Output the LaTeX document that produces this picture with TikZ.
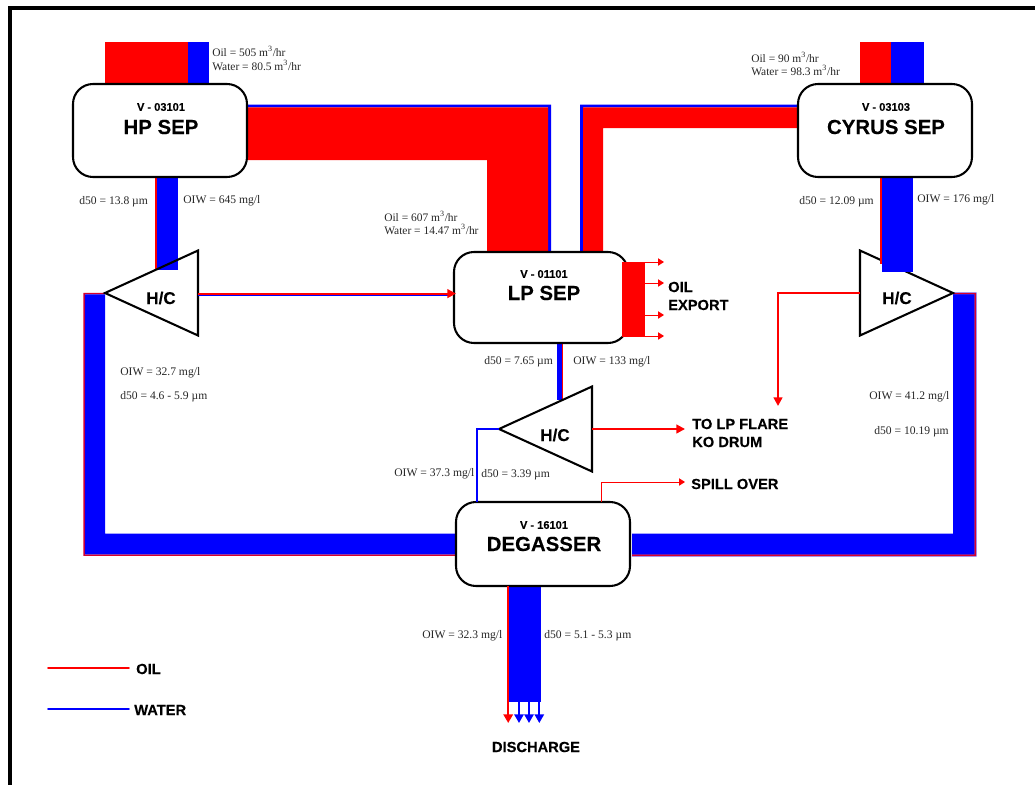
\documentclass[tikz,border=0pt]{standalone}
\usepackage{fontspec}
\setmainfont{Liberation Serif}
\newfontfamily\arialf[BoldFeatures={FakeBold=0.12}]{Liberation Sans}
\usetikzlibrary{arrows.meta,shapes.geometric}
\definecolor{oilc}{RGB}{255,0,0}
\definecolor{watc}{RGB}{0,0,255}
\definecolor{edgec}{RGB}{215,0,45}
\tikzset{
  vessel/.style={draw=black,fill=white,line width=1.55pt,rounded corners=15pt,minimum width=130.5pt,minimum height=69.75pt,inner sep=0pt,outer sep=0pt},
  hctri/.style={isosceles triangle,isosceles triangle stretches,draw=black,line width=1.55pt,miter limit=3,minimum width=63.75pt,minimum height=69.75pt,inner sep=0pt,outer sep=0pt,anchor=apex},
  hcfill/.style={hctri,fill=white,draw=none},
  hcline/.style={hctri,fill=none},
  tag/.style={font=\arialf\bfseries\fontsize{8.3pt}{10pt}\selectfont,inner sep=0pt},
  vname/.style={font=\arialf\bfseries\fontsize{15.3pt}{18pt}\selectfont,inner sep=0pt},
  hctext/.style={font=\arialf\bfseries\fontsize{12.8pt}{15pt}\selectfont,inner sep=0pt},
  big/.style={font=\arialf\bfseries\fontsize{11pt}{13pt}\selectfont,inner sep=0pt,anchor=west},
  val/.style={font=\fontsize{8.7pt}{10pt}\selectfont,inner sep=0pt,anchor=base west,yshift=-2.6pt,text=black!85},
  flow/.style={font=\fontsize{8.6pt}{10pt}\selectfont,inner sep=0pt,anchor=base west,yshift=-2.9pt,text=black!85},
  oil/.style={draw=oilc,line width=1.4pt},
  wat/.style={draw=watc,line width=1.4pt},
  thinoil/.style={draw=oilc,line width=0.7pt,-{Triangle[length=4.5pt,width=5.5pt]}},
  thickoil/.style={draw=oilc,line width=1.4pt,-{Triangle[length=6.5pt,width=6.6pt]}},
  thickwat/.style={draw=watc,line width=1.4pt,-{Triangle[length=6.5pt,width=7pt]}}
}
\begin{document}
\begin{tikzpicture}[x=0.75pt,y=-0.75pt]
\useasboundingbox (0,0) rectangle (1035,785);
% frame
\fill[black] (7.5,6) rectangle (1035,10);
\fill[black] (7.5,6) rectangle (11.5,785);

% triangle bodies
\node[hcfill,shape border rotate=180] (hc1bg) at (105,293) {};
\node[hcfill,shape border rotate=0] (hc2bg) at (953,293) {};
\node[hcfill,shape border rotate=180] (hc3bg) at (499,429) {};

% inlets
\fill[oilc] (105,42) rectangle (187.5,85);
\fill[watc] (187.5,42) rectangle (209,85);
\fill[oilc] (860,42) rectangle (891,85);
\fill[watc] (891,42) rectangle (924,85);

% HP to LP
\fill[watc] (247,104.7) -- (551,104.7) -- (551,252) -- (548,252) -- (548,107.3) -- (247,107.3) -- cycle;
\fill[oilc] (247,107.3) -- (548,107.3) -- (548,252) -- (487,252) -- (487,160) -- (247,160) -- cycle;
% Cyrus to LP
\fill[watc] (580,252.5) -- (580,104.7) -- (799,104.7) -- (799,107.3) -- (583,107.3) -- (583,252.5) -- cycle;
\fill[oilc] (583,252.5) -- (583,107.3) -- (799,107.3) -- (799,128) -- (603,128) -- (603,252.5) -- cycle;

% HP down
\fill[oilc] (155,177) rectangle (157.3,270);
\fill[watc] (157.3,177) rectangle (178,270);
% Cyrus down
\fill[oilc] (880,177) rectangle (882,263.5);
\fill[watc] (882,177) rectangle (913,272);
% LP down
\fill[watc] (557,343) rectangle (561.5,400);
\fill[oilc] (561.5,343) rectangle (563,399);

% left water loop
\fill[edgec] (83.3,292.8) -- (105,292.8) -- (105,294.3) -- (84.8,294.3) -- (84.8,554.3) -- (457,554.3) -- (457,555.8) -- (83.3,555.8) -- cycle;
\fill[watc] (84.8,294.3) -- (105,294.3) -- (105,533.5) -- (457,533.5) -- (457,554.3) -- (84.8,554.3) -- cycle;
% right water loop
\fill[watc!55!white] (953,292.3) -- (976.6,292.3) -- (976.6,556.6) -- (632,556.6) -- (632,554) -- (953,554) -- cycle;
\fill[edgec] (953,292.8) -- (976,292.8) -- (976,556) -- (632,556) -- (632,554.4) -- (974.4,554.4) -- (974.4,294.3) -- (953,294.3) -- cycle;
\fill[watc] (953,294.3) -- (974.4,294.3) -- (974.4,554.4) -- (632,554.4) -- (632,533.5) -- (953,533.5) -- cycle;

% discharge
\fill[watc] (509.2,586) rectangle (541,702);

% vessels
\node[vessel] (hp) at (160,130.5) {};
\node[vessel] (cy) at (885,130.5) {};
\node[vessel,minimum height=68.25pt] (lp) at (541,297.5) {};
\node[vessel,minimum height=63pt] (dg) at (543,544) {};

% LP oil export block
\fill[oilc] (622,262) rectangle (645,337);
\coordinate (ex1) at (645,262);
\coordinate (ex2) at (645,283);
\coordinate (ex3) at (645,315);
\coordinate (ex4) at (645,336);
\coordinate (ex1e) at (664,262);
\coordinate (ex2e) at (664,283);
\coordinate (ex3e) at (664,315);
\coordinate (ex4e) at (664,336);
\draw[thinoil] (ex1) -- (ex1e);
\draw[thinoil] (ex2) -- (ex2e);
\draw[thinoil] (ex3) -- (ex3e);
\draw[thinoil] (ex4) -- (ex4e);

% triangle outlines
\node[hcline,shape border rotate=180] (hc1) at (105,293) {};
\node[hcline,shape border rotate=0] (hc2) at (953,293) {};
\node[hcline,shape border rotate=180] (hc3) at (499,429) {};
% blue over outline at Cyrus
\fill[watc] (882,258) rectangle (913,272);
\fill[oilc] (880,250) rectangle (882,263.5);

% H/C 1 to LP
\coordinate (wa) at (198,295.4);
\coordinate (wb) at (448,295.4);
\coordinate (oa) at (198,293.6);
\coordinate (ob) at (456,293.6);
\draw[draw=watc,line width=1pt] (wa) -- (wb);
\draw[draw=oilc,line width=1.6pt,-{Triangle[length=6.5pt,width=6.5pt]}] (oa) -- (ob);

% Cyrus H/C gas
\coordinate (gas0) at (860,293);
\coordinate (gas1) at (778,293);
\coordinate (gas2) at (778,406);
\draw[thickoil] (gas0) -- (gas1) -- (gas2);

% LP H/C
\coordinate (hc3k) at (477,429);
\draw[wat] (hc3.apex) -- (hc3k) -- (hc3k |- dg.north);
\coordinate (fl0) at (592,429);
\coordinate (flare) at (685,429);
\draw[thickoil] (fl0) -- (flare);
\coordinate (sp1) at (601,482);
\coordinate (sp2) at (685,482);
\draw[thinoil] (sp1 |- dg.north) -- (sp1) -- (sp2);

% discharge arrows
\coordinate (d1) at (508.2,723);
\coordinate (d2) at (519,723);
\coordinate (d3) at (529,723);
\coordinate (d4) at (539.3,723);
\draw[thickoil,line width=1.8pt,-{Triangle[length=6.5pt,width=7pt]}] (d1 |- dg.south) -- (d1);
\draw[thickwat] (d2 |- 0,702) -- (d2);
\draw[thickwat] (d3 |- 0,702) -- (d3);
\draw[thickwat] (d4 |- 0,702) -- (d4);

% legend
\coordinate (lo1) at (48,668); \coordinate (lo2) at (129,668);
\coordinate (lw1) at (48,709); \coordinate (lw2) at (129,709);
\draw[oil,line cap=round] (lo1) -- (lo2);
\draw[wat,line cap=round] (lw1) -- (lw2);
\node[big] (toil) at (136,669) {OIL};
\node[big] (twat) at (134,710) {WATER};

% vessel text
\node[tag] (t1) at (161,107) {V - 03101};
\node[vname] (n1) at (161,127) {HP SEP};
\node[tag] (t2) at (886,107) {V - 03103};
\node[vname] (n2) at (886,127) {CYRUS SEP};
\node[tag] (t3) at (544,274) {V - 01101};
\node[vname] (n3) at (544,293) {LP SEP};
\node[tag] (t4) at (544,525) {V - 16101};
\node[vname] (n4) at (544,544) {DEGASSER};
\node[hctext] (h1) at (161,298) {H/C};
\node[hctext] (h2) at (897,298) {H/C};
\node[hctext] (h3) at (555,435) {H/C};

% big labels
\node[big] (l1) at (668,287) {OIL};
\node[big] (l2) at (668,305) {EXPORT};
\node[big] (l3) at (692,424) {TO LP FLARE};
\node[big] (l4) at (692,442) {KO DRUM};
\node[big] (l5) at (691,484) {SPILL OVER};
\node[big,anchor=center] (l6) at (536,747) {DISCHARGE};

% flow values
\node[flow] (f1) at (212,53) {Oil = 505 m\textsuperscript{3}/hr};
\node[flow] (f2) at (212,67) {Water = 80.5 m\textsuperscript{3}/hr};
\node[flow] (f3) at (384,218) {Oil = 607 m\textsuperscript{3}/hr};
\node[flow] (f4) at (384,231) {Water = 14.47 m\textsuperscript{3}/hr};
\node[flow] (f5) at (751,59) {Oil = 90 m\textsuperscript{3}/hr};
\node[flow] (f6) at (751,72) {Water = 98.3 m\textsuperscript{3}/hr};

\node[val] (v1) at (79,201) {d50 = 13.8 µm};
\node[val] (v2) at (183,200) {OIW = 645 mg/l};
\node[val] (v3) at (799,201) {d50 = 12.09 µm};
\node[val] (v4) at (917,199) {OIW = 176 mg/l};
\node[val] (v5) at (120,372) {OIW = 32.7 mg/l};
\node[val] (v6) at (120,396) {d50 = 4.6 - 5.9 µm};
\node[val] (v7) at (484,361) {d50 = 7.65 µm};
\node[val] (v8) at (573,361) {OIW = 133 mg/l};
\node[val] (v9) at (869,396) {OIW = 41.2 mg/l};
\node[val] (v10) at (874,431) {d50 = 10.19 µm};
\node[val] (v11) at (394,473) {OIW = 37.3 mg/l};
\node[val] (v12) at (481,474) {d50 = 3.39 µm};
\node[val] (v13) at (422,635) {OIW = 32.3 mg/l};
\node[val] (v14) at (544,635) {d50 = 5.1 - 5.3 µm};
\end{tikzpicture}
\end{document}
